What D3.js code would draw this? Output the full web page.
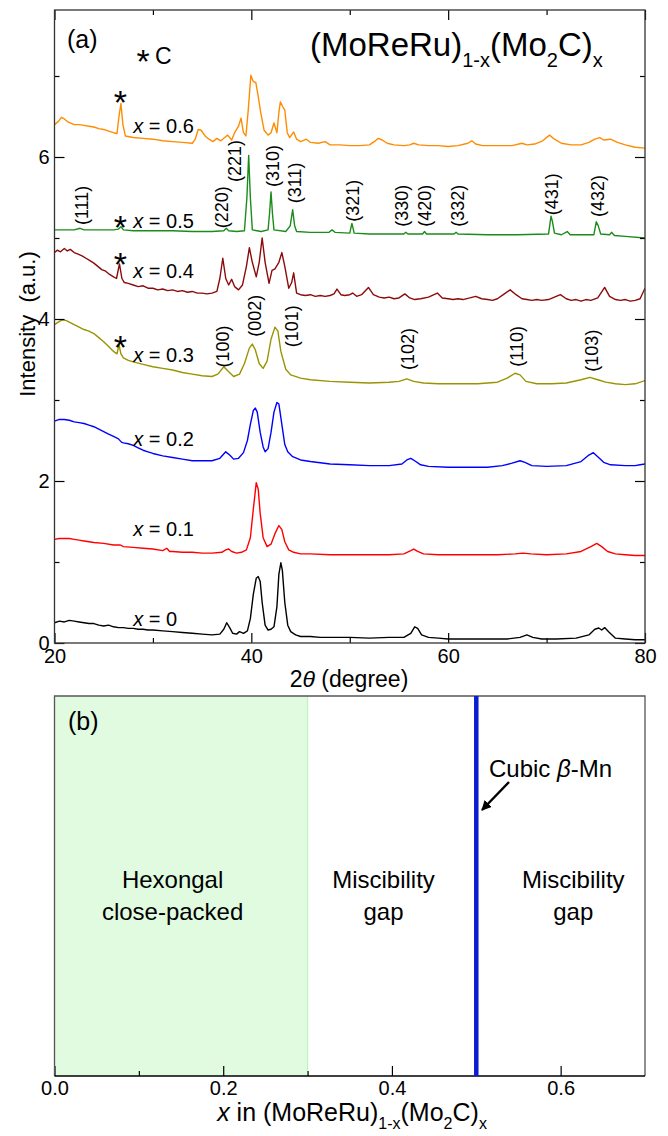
<!DOCTYPE html>
<html><head><meta charset="utf-8">
<script src="https://cdn.jsdelivr.net/npm/d3@7"></script>
<style>
html,body{margin:0;padding:0;background:#fff;}
svg{display:block;font-family:"Liberation Sans",Arial,sans-serif;}
</style></head>
<body>
<svg id="chart" width="668" height="1136"></svg>
<script>
// ---------------- DATA (2θ in degree, intensity in a.u.) ----------------
const scanX0 = [[20,0.25],[20.5,0.27],[21,0.26],[21.5,0.28],[22,0.27],[22.5,0.26],[23,0.25],[23.5,0.24],[24,0.24],[24.5,0.22],[25,0.21],[25.5,0.22],[26,0.2],[26.5,0.19],[27,0.19],[27.5,0.18],[28,0.18],[28.5,0.17],[29,0.17],[29.5,0.16],[30,0.16],[31,0.15],[32,0.14],[33,0.13],[34,0.12],[35,0.11],[36,0.1],[36.8,0.11],[37.2,0.17],[37.5,0.25],[37.8,0.19],[38.1,0.12],[38.5,0.11],[38.8,0.14],[39.2,0.12],[39.6,0.15],[39.9,0.3],[40.2,0.6],[40.5,0.8],[40.7,0.82],[40.9,0.76],[41.1,0.5],[41.4,0.22],[41.7,0.16],[42.0,0.17],[42.3,0.2],[42.6,0.45],[42.8,0.85],[43.0,0.99],[43.15,0.9],[43.4,0.5],[43.7,0.22],[44.0,0.14],[44.5,0.1],[45,0.08],[46,0.08],[47,0.07],[48,0.07],[50,0.07],[52,0.06],[54,0.07],[55.5,0.07],[56.2,0.12],[56.6,0.2],[56.9,0.18],[57.3,0.1],[58,0.07],[59,0.06],[60,0.05],[62,0.05],[64,0.05],[66,0.05],[67.3,0.07],[68,0.1],[68.6,0.07],[69.5,0.05],[71,0.05],[73,0.06],[74.3,0.1],[74.9,0.17],[75.3,0.185],[75.6,0.16],[75.9,0.19],[76.3,0.14],[77,0.06],[78,0.05],[79,0.04],[80,0.04]];
const scanX01 = [[20,1.28],[20.5,1.29],[21,1.29],[21.5,1.29],[22,1.28],[22.5,1.27],[23,1.26],[23.5,1.25],[24,1.24],[25,1.23],[26,1.21],[26.7,1.21],[27,1.19],[28,1.18],[29,1.17],[30,1.16],[31,1.14],[31.4,1.17],[31.7,1.13],[32,1.13],[33,1.12],[34,1.12],[35,1.11],[36,1.11],[37,1.12],[37.4,1.15],[37.7,1.16],[38,1.13],[38.5,1.11],[39,1.12],[39.5,1.15],[39.9,1.3],[40.2,1.65],[40.5,1.98],[40.7,1.9],[40.9,1.6],[41.2,1.3],[41.6,1.19],[42,1.22],[42.4,1.35],[42.8,1.45],[43.1,1.4],[43.4,1.25],[43.8,1.15],[44.3,1.12],[45,1.1],[46,1.1],[48,1.09],[50,1.09],[52,1.09],[54,1.09],[55.5,1.1],[56.2,1.14],[56.5,1.16],[56.9,1.13],[57.5,1.1],[59,1.09],[61,1.09],[63,1.09],[65,1.09],[66.8,1.1],[67.6,1.11],[68.4,1.1],[70,1.09],[72,1.1],[73.5,1.13],[74.5,1.19],[75.1,1.23],[75.6,1.19],[76.2,1.13],[77,1.1],[78,1.09],[79,1.08],[80,1.08]];
const scanX02 = [[20,2.74],[20.5,2.76],[21,2.76],[21.5,2.75],[22,2.73],[22.5,2.72],[23,2.71],[23.5,2.69],[24,2.67],[24.5,2.64],[25,2.61],[25.5,2.58],[26,2.55],[26.5,2.52],[26.8,2.48],[27,2.47],[27.5,2.46],[28,2.44],[28.5,2.41],[29,2.38],[29.5,2.36],[30,2.34],[31,2.31],[32,2.29],[33,2.27],[34,2.25],[35,2.25],[36,2.25],[36.8,2.28],[37.4,2.36],[37.8,2.32],[38.2,2.27],[38.7,2.28],[39.2,2.35],[39.6,2.5],[39.9,2.7],[40.2,2.87],[40.4,2.9],[40.6,2.85],[40.9,2.6],[41.2,2.42],[41.4,2.36],[41.7,2.4],[42.0,2.6],[42.3,2.85],[42.6,2.97],[42.8,2.95],[43.1,2.7],[43.4,2.45],[43.7,2.36],[44.2,2.3],[45,2.26],[46,2.24],[48,2.21],[50,2.2],[52,2.19],[54,2.19],[55.3,2.21],[55.8,2.26],[56.2,2.28],[56.6,2.25],[57.2,2.2],[58,2.18],[60,2.17],[62,2.17],[64,2.17],[65.5,2.19],[66.5,2.22],[67.3,2.25],[67.8,2.23],[68.5,2.19],[70,2.18],[72,2.19],[73.5,2.24],[74.3,2.32],[74.75,2.35],[75.2,2.3],[75.8,2.23],[76.5,2.2],[78,2.19],[79,2.19],[79.5,2.2],[80,2.21]];
const scanX03 = [[20,3.93],[20.5,3.97],[20.8,3.99],[21.2,3.98],[21.7,3.95],[22,3.93],[22.5,3.9],[23,3.87],[23.5,3.85],[24,3.82],[24.5,3.77],[25,3.72],[25.5,3.66],[26,3.6],[26.35,3.57],[26.55,3.68],[26.75,3.57],[27,3.52],[27.5,3.49],[28,3.47],[29,3.44],[30,3.41],[31,3.39],[32,3.37],[33,3.34],[34,3.32],[35,3.3],[36,3.29],[36.6,3.32],[37.2,3.41],[37.6,3.36],[38.2,3.29],[38.8,3.32],[39.3,3.45],[39.8,3.64],[40.1,3.69],[40.4,3.62],[40.8,3.45],[41.2,3.39],[41.6,3.48],[42.0,3.75],[42.4,3.9],[42.7,3.85],[43.0,3.6],[43.5,3.38],[44,3.31],[45,3.27],[46,3.25],[48,3.23],[50,3.22],[52,3.21],[54,3.22],[55,3.23],[55.8,3.26],[56.5,3.23],[57.5,3.21],[59,3.2],[61,3.2],[63,3.2],[65,3.22],[66,3.27],[66.8,3.33],[67.3,3.31],[67.9,3.23],[69,3.2],[70.5,3.2],[72,3.21],[73.5,3.25],[74.4,3.28],[75.2,3.25],[76,3.22],[77,3.2],[78,3.19],[79,3.2],[80,3.24]];
const scanX04 = [[20,4.82],[20.3,4.85],[20.6,4.83],[21,4.87],[21.3,4.84],[21.6,4.86],[22,4.82],[22.4,4.8],[22.8,4.78],[23.2,4.75],[23.6,4.72],[24,4.69],[24.4,4.65],[24.8,4.61],[25.2,4.59],[25.6,4.55],[26,4.52],[26.3,4.5],[26.6,4.68],[26.85,4.5],[27.1,4.45],[27.5,4.44],[28,4.42],[28.5,4.4],[29,4.41],[29.5,4.38],[30,4.38],[30.5,4.36],[31,4.37],[31.5,4.35],[32,4.36],[32.5,4.34],[33,4.35],[33.5,4.33],[34,4.34],[34.5,4.32],[35,4.32],[35.5,4.31],[36,4.32],[36.5,4.34],[36.8,4.5],[37.1,4.75],[37.4,4.5],[37.7,4.42],[38.0,4.49],[38.3,4.4],[38.7,4.36],[39.1,4.42],[39.5,4.65],[39.8,4.88],[40.1,4.7],[40.5,4.52],[40.8,4.7],[41.1,5.0],[41.4,4.7],[41.8,4.44],[42.1,4.6],[42.4,4.62],[42.8,4.7],[43.1,4.82],[43.4,4.65],[43.8,4.38],[44.1,4.45],[44.3,4.57],[44.6,4.32],[45,4.3],[45.5,4.29],[46,4.3],[46.5,4.28],[47,4.29],[47.5,4.28],[48,4.29],[48.4,4.31],[48.7,4.37],[49.1,4.3],[49.5,4.29],[50,4.3],[50.3,4.32],[50.7,4.28],[51.2,4.3],[51.9,4.39],[52.4,4.3],[53,4.27],[53.5,4.26],[54,4.27],[54.5,4.25],[55,4.26],[55.6,4.31],[56.1,4.26],[56.6,4.24],[57.2,4.25],[58,4.27],[58.9,4.32],[59.4,4.26],[60,4.25],[60.5,4.24],[61,4.25],[61.5,4.24],[62.2,4.26],[62.8,4.28],[63.4,4.25],[64,4.24],[64.5,4.23],[65,4.25],[65.6,4.3],[66.3,4.36],[66.9,4.3],[67.5,4.25],[68,4.24],[68.5,4.23],[69,4.24],[69.5,4.23],[70.2,4.24],[70.8,4.27],[71.4,4.3],[72,4.25],[72.5,4.23],[73,4.24],[73.5,4.22],[74,4.24],[74.5,4.23],[75.2,4.26],[75.9,4.39],[76.4,4.28],[77,4.24],[77.5,4.23],[78,4.24],[78.5,4.22],[79,4.23],[79.5,4.25],[80,4.38]];
const scanX05 = [[20,5.1],[21,5.1],[22,5.1],[22.6,5.12],[23,5.1],[24,5.1],[25,5.1],[26,5.1],[26.5,5.11],[26.75,5.14],[27,5.1],[28,5.09],[30,5.09],[32,5.09],[34,5.08],[36,5.08],[37.2,5.09],[37.45,5.12],[37.7,5.09],[38.5,5.08],[39.3,5.09],[39.55,5.5],[39.73,6.02],[39.9,5.5],[40.1,5.1],[41,5.08],[41.7,5.1],[41.85,5.3],[42.0,5.57],[42.15,5.3],[42.3,5.1],[43.5,5.08],[43.95,5.15],[44.2,5.35],[44.4,5.15],[44.6,5.08],[46,5.07],[47.9,5.07],[48.2,5.1],[48.5,5.07],[50,5.06],[50.22,5.18],[50.45,5.06],[52,5.05],[54,5.05],[55.5,5.05],[55.7,5.07],[55.9,5.05],[57.4,5.05],[57.6,5.08],[57.8,5.05],[60.6,5.05],[60.8,5.07],[61,5.05],[64,5.04],[67,5.04],[70.2,5.05],[70.45,5.27],[70.6,5.2],[70.8,5.06],[71.5,5.04],[72.1,5.08],[72.4,5.04],[74.8,5.04],[75.05,5.2],[75.25,5.15],[75.5,5.05],[76.4,5.04],[76.6,5.07],[76.9,5.03],[78,5.02],[80,5.0]];
const scanX06 = [[20,6.4],[20.4,6.44],[20.7,6.49],[21,6.47],[21.4,6.43],[22,6.4],[22.5,6.4],[23,6.39],[23.5,6.38],[24,6.37],[24.5,6.35],[25,6.34],[25.5,6.32],[26,6.3],[26.35,6.29],[26.55,6.5],[26.75,6.66],[26.95,6.4],[27.2,6.26],[27.6,6.25],[28,6.24],[29,6.23],[30,6.22],[31,6.2],[32,6.19],[33,6.18],[34,6.17],[34.3,6.22],[34.6,6.34],[34.9,6.33],[35.3,6.26],[35.7,6.22],[36.1,6.19],[36.5,6.23],[36.9,6.2],[37.3,6.24],[37.6,6.27],[38,6.21],[38.3,6.3],[38.7,6.38],[38.95,6.48],[39.2,6.3],[39.45,6.26],[39.7,6.6],[39.95,7.01],[40.2,6.93],[40.45,6.92],[40.7,6.75],[40.95,6.55],[41.3,6.33],[41.7,6.27],[42.0,6.3],[42.3,6.42],[42.6,6.3],[42.8,6.55],[42.95,6.68],[43.2,6.62],[43.4,6.58],[43.65,6.3],[43.9,6.24],[44.3,6.31],[44.6,6.22],[45,6.19],[45.6,6.22],[46,6.18],[46.8,6.17],[47.5,6.19],[48,6.15],[49,6.15],[50,6.14],[51,6.14],[52,6.15],[52.6,6.2],[52.9,6.23],[53.3,6.21],[53.8,6.17],[54.5,6.15],[55.5,6.14],[56.1,6.15],[56.5,6.17],[57,6.15],[58,6.14],[59,6.14],[60,6.13],[61,6.14],[62,6.17],[62.4,6.2],[62.8,6.16],[63.5,6.14],[65,6.14],[66.5,6.14],[67.5,6.17],[68,6.15],[68.8,6.16],[69.6,6.2],[70.3,6.27],[70.8,6.22],[71.5,6.17],[72.5,6.15],[73.5,6.15],[74.3,6.18],[74.9,6.22],[75.4,6.24],[75.8,6.21],[76.5,6.22],[77.2,6.18],[78,6.15],[79,6.12],[80,6.11]];

const seriesNames  = ["0", "0.1", "0.2", "0.3", "0.4", "0.5", "0.6"];
const seriesColors = ["#000000", "#ff0000", "#0000ff", "#999400", "#8b0a0a", "#1a8c1a", "#ff8c00"];
const seriesLabelPos = [[28, 0.21], [28, 1.32], [28, 2.43], [28, 3.47], [28, 4.51], [28, 5.12], [28, 6.30]];

// hkl labels: [text, 2θ, intensity at label bottom]
const hklCubic = [["(111)",22.84,5.16],["(220)",37.06,5.12],["(221)",38.38,5.69],["(310)",42.23,5.63],["(311)",44.47,5.43],["(321)",50.36,5.20],["(330)",55.33,5.14],["(420)",57.66,5.14],["(332)",61.02,5.14],["(431)",70.56,5.28],["(432)",75.23,5.26]];
const hklHex = [["(100)",37.16,3.40],["(002)",40.41,3.78],["(101)",44.16,3.65],["(102)",55.94,3.37],["(110)",67.0,3.41],["(103)",74.62,3.35]];
const carbonMarks = [[26.7, 6.74], [26.7, 5.20], [26.7, 4.74], [26.7, 3.72]];

const xMajor = [20, 40, 60, 80], xMinor = [30, 50, 70];
const yMajor = [0, 2, 4, 6], yMinor = [1, 3, 5, 7];

// phase diagram (b)
const phaseRegions = [{from: 0.0, to: 0.3, fill: "#e1fbe1", edge: "#c4f0c4"}];
const cubicPhaseX = 0.5;
const phaseLabels = [
  {x: 0.14, lines: ["Hexongal", "close-packed"]},
  {x: 0.39, lines: ["Miscibility", "gap"]},
  {x: 0.615, lines: ["Miscibility", "gap"]}
];
const bMajor = [0.0, 0.2, 0.4, 0.6], bMinor = [0.1, 0.3, 0.5];

// ---------------- DRAWING ----------------
const svg = d3.select("#chart");
const L = 54.5, R = 645, T = 10, B = 643;
const x = d3.scaleLinear().domain([20, 80]).range([L, R]);
const y = d3.scaleLinear().domain([0, 7.8]).range([B, B - 7.8 * 81]);

const scans = [scanX0, scanX01, scanX02, scanX03, scanX04, scanX05, scanX06];
const line = d3.line().x(d => x(d[0])).y(d => y(d[1]));

const gA = svg.append("g");
gA.append("defs").append("clipPath").attr("id", "clipA")
  .append("rect").attr("x", L).attr("y", T).attr("width", R - L).attr("height", B - T);

const curves = gA.append("g").attr("clip-path", "url(#clipA)");
scans.forEach((s, i) => {
  curves.append("path").datum(s).attr("d", line)
    .attr("fill", "none").attr("stroke", seriesColors[i])
    .attr("stroke-width", 1.4).attr("stroke-linejoin", "round");
});

// axes (inward ticks)
function styleAxis(g) {
  g.select(".domain").remove();
  g.selectAll(".tick line").attr("stroke", "#000").attr("stroke-width", 1.2);
  g.selectAll(".tick text").attr("fill", "#000").attr("font-family", "Liberation Sans, Arial, sans-serif");
}
gA.append("g").attr("transform", `translate(0,${B})`)
  .call(d3.axisBottom(x).tickValues(xMajor).tickSizeInner(-10).tickSizeOuter(0).tickPadding(6).tickFormat(d3.format("d")))
  .call(styleAxis).call(g => g.selectAll(".tick text").attr("font-size", 20));
gA.append("g").attr("transform", `translate(0,${B})`)
  .call(d3.axisBottom(x).tickValues(xMinor).tickSizeInner(-5).tickSizeOuter(0).tickFormat(""))
  .call(styleAxis);
gA.append("g").attr("transform", `translate(0,${T})`)
  .call(d3.axisTop(x).tickValues(xMajor).tickSizeInner(-10).tickSizeOuter(0).tickFormat(""))
  .call(styleAxis);
gA.append("g").attr("transform", `translate(0,${T})`)
  .call(d3.axisTop(x).tickValues(xMinor).tickSizeInner(-5).tickSizeOuter(0).tickFormat(""))
  .call(styleAxis);
gA.append("g").attr("transform", `translate(${L},0)`)
  .call(d3.axisLeft(y).tickValues(yMajor).tickSizeInner(-10).tickSizeOuter(0).tickPadding(5).tickFormat(d3.format("d")))
  .call(styleAxis).call(g => g.selectAll(".tick text").attr("font-size", 20));
gA.append("g").attr("transform", `translate(${L},0)`)
  .call(d3.axisLeft(y).tickValues(yMinor).tickSizeInner(-5).tickSizeOuter(0).tickFormat(""))
  .call(styleAxis);
gA.append("g").attr("transform", `translate(${R},0)`)
  .call(d3.axisRight(y).tickValues(yMajor).tickSizeInner(-10).tickSizeOuter(0).tickFormat(""))
  .call(styleAxis);
gA.append("g").attr("transform", `translate(${R},0)`)
  .call(d3.axisRight(y).tickValues(yMinor).tickSizeInner(-5).tickSizeOuter(0).tickFormat(""))
  .call(styleAxis);

gA.append("rect").attr("x", L).attr("y", T).attr("width", R - L).attr("height", B - T)
  .attr("fill", "none").attr("stroke", "#333").attr("stroke-width", 1.3);

// series labels
seriesNames.forEach((n, i) => {
  const t = gA.append("text").attr("x", x(seriesLabelPos[i][0])).attr("y", y(seriesLabelPos[i][1]))
    .attr("font-size", 20).attr("fill", "#000");
  t.append("tspan").attr("font-style", "italic").text("x");
  t.append("tspan").text(" = " + n);
});

// hkl labels
[...hklCubic, ...hklHex].forEach(h => {
  gA.append("text")
    .attr("transform", `translate(${x(h[1]) + 6},${y(h[2])}) rotate(-90)`)
    .attr("font-size", 18).attr("fill", "#000").text(h[0]);
});

// carbon markers
carbonMarks.forEach(c => {
  gA.append("text").attr("x", x(c[0])).attr("y", y(c[1]) + 17)
    .attr("text-anchor", "middle").attr("font-size", 34).attr("fill", "#000").text("*");
});

// annotations panel (a)
gA.append("text").attr("x", 67).attr("y", 48).attr("font-size", 25).text("(a)");
gA.append("text").attr("x", 143).attr("y", 73).attr("text-anchor", "middle").attr("font-size", 34).text("*");
gA.append("text").attr("x", 155).attr("y", 64).attr("font-size", 23).text("C");

const title = gA.append("text").attr("x", 310).attr("y", 56).attr("font-size", 33).attr("fill", "#000");
title.append("tspan").text("(MoReRu)");
title.append("tspan").attr("font-size", 20).attr("dy", 11).text("1-x");
title.append("tspan").attr("dy", -11).text("(Mo");
title.append("tspan").attr("font-size", 20).attr("dy", 11).text("2");
title.append("tspan").attr("dy", -11).text("C)");
title.append("tspan").attr("font-size", 20).attr("dy", 11).text("x");

// axis titles
const xt = gA.append("text").attr("x", 349).attr("y", 687).attr("text-anchor", "middle").attr("font-size", 23);
xt.append("tspan").text("2");
xt.append("tspan").attr("font-style", "italic").text("θ");
xt.append("tspan").text(" (degree)");
gA.append("text").attr("transform", "translate(35,324) rotate(-90)").attr("text-anchor", "middle")
  .attr("font-size", 22).text("Intensity\u00a0\u00a0(a.u.)");

// ---------------- PANEL (b) ----------------
const bL = 54.5, bR = 645, bT = 696, bB = 1076;
const xb = d3.scaleLinear().domain([0, 0.7]).range([bL, bR]);
const gB = svg.append("g");

phaseRegions.forEach(r => {
  gB.append("rect").attr("x", xb(r.from)).attr("y", bT).attr("width", xb(r.to) - xb(r.from)).attr("height", bB - bT)
    .attr("fill", r.fill);
  gB.append("line").attr("x1", xb(r.to)).attr("x2", xb(r.to)).attr("y1", bT).attr("y2", bB)
    .attr("stroke", r.edge).attr("stroke-width", 1.2);
});

gB.append("g").attr("transform", `translate(0,${bB})`)
  .call(d3.axisBottom(xb).tickValues(bMajor).tickSizeInner(-10).tickSizeOuter(0).tickPadding(5).tickFormat(d3.format(".1f")))
  .call(styleAxis).call(g => g.selectAll(".tick text").attr("font-size", 20));
gB.append("g").attr("transform", `translate(0,${bB})`)
  .call(d3.axisBottom(xb).tickValues(bMinor).tickSizeInner(-5).tickSizeOuter(0).tickFormat(""))
  .call(styleAxis);

// frame
gB.append("path").attr("d", `M${bL},${bB}V${bT}H${bR}V${bB}`).attr("fill", "none").attr("stroke", "#555").attr("stroke-width", 1.3);
gB.append("line").attr("x1", bL).attr("x2", bR).attr("y1", bB).attr("y2", bB).attr("stroke", "#000").attr("stroke-width", 1.3);

gB.append("line").attr("x1", xb(cubicPhaseX)).attr("x2", xb(cubicPhaseX)).attr("y1", bT).attr("y2", bB)
  .attr("stroke", "#0a1ecf").attr("stroke-width", 4.5);

phaseLabels.forEach(p => {
  p.lines.forEach((s, k) => {
    gB.append("text").attr("x", xb(p.x)).attr("y", 888 + k * 32).attr("text-anchor", "middle")
      .attr("font-size", 24).text(s);
  });
});

gB.append("text").attr("x", 68).attr("y", 730).attr("font-size", 25).text("(b)");

const ct = gB.append("text").attr("x", 489).attr("y", 777).attr("font-size", 24);
ct.append("tspan").text("Cubic ");
ct.append("tspan").attr("font-style", "italic").text("β");
ct.append("tspan").text("-Mn");

const defs = svg.append("defs");
defs.append("marker").attr("id", "arr").attr("viewBox", "0 0 10 10").attr("refX", 9).attr("refY", 5)
  .attr("markerWidth", 4).attr("markerHeight", 4).attr("orient", "auto")
  .append("path").attr("d", "M0,0L10,5L0,10z").attr("fill", "#000");
gB.append("line").attr("x1", 509).attr("y1", 782).attr("x2", 482).attr("y2", 810)
  .attr("stroke", "#000").attr("stroke-width", 2.5).attr("marker-end", "url(#arr)");

const bt = gB.append("text").attr("x", 352).attr("y", 1121).attr("text-anchor", "middle").attr("font-size", 25);
bt.append("tspan").attr("font-style", "italic").text("x");
bt.append("tspan").text(" in (MoReRu)");
bt.append("tspan").attr("font-size", 16).attr("dy", 8).text("1-x");
bt.append("tspan").attr("dy", -8).text("(Mo");
bt.append("tspan").attr("font-size", 16).attr("dy", 8).text("2");
bt.append("tspan").attr("dy", -8).text("C)");
bt.append("tspan").attr("font-size", 16).attr("dy", 8).text("x");
</script>
</body></html>
